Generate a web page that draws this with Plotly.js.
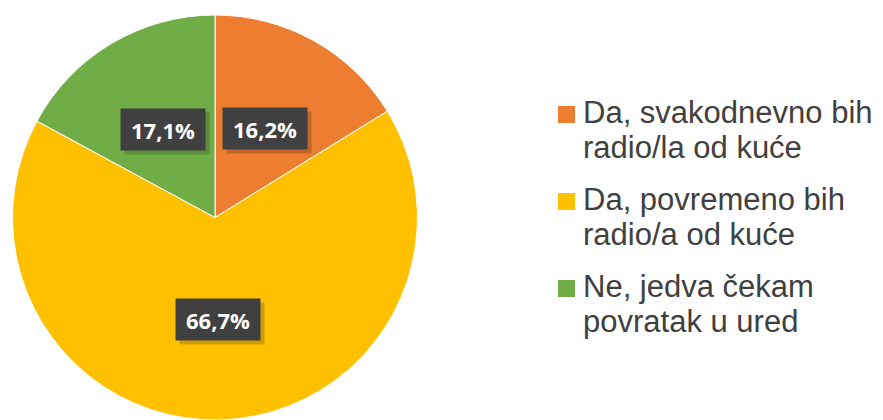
<!DOCTYPE html>
<html>
<head>
<meta charset="utf-8">
<script src="https://cdn.plot.ly/plotly-3.0.1.min.js"></script>
<style>html,body{margin:0;padding:0;background:#fff;}#chart{width:883px;height:420px;}</style>
</head>
<body>
<div id="chart"></div>
<script>
const categories = [
  "Da, svakodnevno bih<br>radio/la od kuće",
  "Da, povremeno bih<br>radio/a od kuće",
  "Ne, jedva čekam<br>povratak u ured"
];
const values = [16.2, 66.7, 17.1];
const valueLabels = ["16,2%", "66,7%", "17,1%"];
const colors = ["#ED7D31", "#FFC000", "#70AD47"];

const W = 883, H = 420;
const domX = [12 / W, 418 / W];
const domY = [0, 1 - 15 / H];

// pie geometry derived from its domain
const pxW = (domX[1] - domX[0]) * W, pxH = (domY[1] - domY[0]) * H;
const R = Math.min(pxW, pxH) / 2;
const cx = (domX[0] + domX[1]) / 2 * W;
const cy = (1 - (domY[0] + domY[1]) / 2) * H;
const px2x = p => p / W;
const px2y = p => 1 - p / H;

const annotations = [];
const shapes = [];

// value labels: dark boxes at the middle of each slice
const total = values.reduce((a, b) => a + b, 0);
let cum = 0;
values.forEach((v, i) => {
  const mid = (cum + v / 2) / total * 2 * Math.PI;
  cum += v;
  const r = 0.505 * R;
  const px = cx + r * Math.sin(mid);
  const py = cy - r * Math.cos(mid);
  // soft shadow
  annotations.push({
    x: px2x(px + 4), y: px2y(py + 4), xref: 'paper', yref: 'paper',
    text: ' ', showarrow: false, width: 82, height: 39, borderpad: 1,
    bgcolor: 'rgba(0,0,0,0.18)', xanchor: 'center', yanchor: 'middle'
  });
  annotations.push({
    x: px2x(px), y: px2y(py), xref: 'paper', yref: 'paper',
    text: '<b>' + valueLabels[i] + '</b>', showarrow: false,
    font: {family: '"Open Sans", Lato, sans-serif', size: 22, color: '#ffffff'},
    bgcolor: '#404040', width: 82, height: 39, borderpad: 1,
    xanchor: 'center', yanchor: 'middle'
  });
});

// legend built from categories and colours
const legSize = 31;
const legFont = {family: '"Liberation Sans", Arial, sans-serif', size: legSize, color: '#404040'};
const legX = 583, sqX0 = 558, sqSize = 17;
const firstBaseline = 123.5, itemPitch = 87, linePitch = 34.5;
categories.forEach((c, i) => {
  const lines = c.split('<br>');
  const base0 = firstBaseline + i * itemPitch;
  shapes.push({
    type: 'rect', xref: 'paper', yref: 'paper',
    x0: px2x(sqX0), x1: px2x(sqX0 + sqSize),
    y0: px2y(base0 - 0.5), y1: px2y(base0 - 0.5 - sqSize),
    fillcolor: colors[i], line: {width: 0}
  });
  lines.forEach((ln, j) => {
    const baseline = base0 + j * linePitch;
    annotations.push({
      x: px2x(legX - 1), y: px2y(baseline - 0.347 * legSize), xref: 'paper', yref: 'paper',
      text: ln, showarrow: false, font: legFont, borderpad: 0,
      xanchor: 'left', yanchor: 'middle', align: 'left'
    });
  });
});

const data = [{
  type: 'pie',
  labels: categories,
  values: values,
  sort: false,
  direction: 'clockwise',
  rotation: 0,
  marker: {colors: colors, line: {color: '#ffffff', width: 1}},
  textinfo: 'none',
  hoverinfo: 'label+percent',
  showlegend: false,
  domain: {x: domX, y: domY}
}];

const layout = {
  width: W, height: H,
  margin: {l: 0, r: 0, t: 0, b: 0},
  paper_bgcolor: '#ffffff',
  showlegend: false,
  annotations: annotations,
  shapes: shapes
};

Plotly.newPlot('chart', data, layout, {displayModeBar: false, staticPlot: true});
</script>
</body>
</html>
